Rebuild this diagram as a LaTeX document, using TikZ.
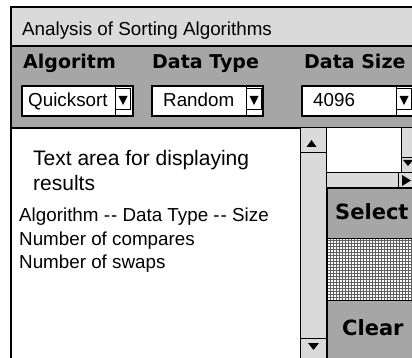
\documentclass[tikz,border=0pt]{standalone}
\usepackage{fontspec}
\setmainfont{Liberation Sans}
\newfontfamily\lblfont{DejaVu Sans}
\definecolor{lightg}{HTML}{DADADA}
\definecolor{midg}{HTML}{A6A6A6}
\newcommand\combobtn[1]{%
  \draw[line width=1] (#1,86) -- (#1,116);
  \draw[line width=1] (#1,89) -- (#1+15,89) -- (#1+15,110) -- (#1,110);
  \fill (#1+3.5,96) -- (#1+12.5,96) -- (#1+8,105) -- cycle;
}
\begin{document}
\begin{tikzpicture}[x=1pt,y=-1pt,
  lbl/.style={font=\lblfont\bfseries\fontsize{19}{22}\selectfont, anchor=base west, inner sep=0},
  txt/.style={font=\fontsize{18.8}{22}\selectfont, anchor=base west, inner sep=0},
  bigtxt/.style={font=\fontsize{21}{25}\selectfont, anchor=base west, inner sep=0},
  btntxt/.style={font=\lblfont\bfseries\fontsize{21}{25}\selectfont, anchor=base west, inner sep=0},
  combo/.style={draw=black, fill=white, line width=1.2},
  lightbox/.style={fill=lightg, draw=black, line width=1},
  btnbox/.style={fill=midg, draw=black, line width=1}]
\useasboundingbox (0,0) rectangle (412,358);
\clip (0,0) rectangle (412,358);
\fill[white] (0,0) rectangle (412,358);
% title bar and panel
\fill[lightg] (11,7) rectangle (414,46);
\fill[midg] (11,46) rectangle (414,128);
\fill[white] (11,128) rectangle (300,360);
\draw[line width=1.3] (11,360) -- (11,7) -- (414,7);
\draw[line width=1.3] (11,46) -- (414,46);
\draw[line width=1.3] (11,128) -- (414,128);
\node[txt] (title) at (22,36) {Analysis of Sorting Algorithms};
% labels
\node[lbl] (lalg) at (23,69) {Algoritm};
\node[lbl] (ltype) at (152,69) {Data Type};
\node[lbl] (lsize) at (304,69) {Data Size};
% combo boxes
\draw[combo] (22,86) rectangle (133,116);
\draw[combo] (152,86) rectangle (263,116);
\draw[combo] (302,86) rectangle (420,116);
\node[txt] (cqs) at (28,107) {Quicksort};
\node[txt] (crand) at (163,107) {Random};
\node[txt] (csize) at (313,107) {4096};
\combobtn{115}
\combobtn{246}
\combobtn{396}
% text area
\node[bigtxt] (t1) at (33,165.5) {Text area for displaying};
\node[bigtxt] (t2) at (33,190.5) {results};
\node[txt] (t3) at (19,222) {Algorithm -\kern1pt- Data Type -\kern1pt- Size};
\node[txt] (t4) at (19,245) {Number of compares};
\node[txt] (t5) at (19,268) {Number of swaps};
% vertical scrollbar
\draw[lightbox] (300,128) rectangle (326,360);
\draw[line width=1] (300,153) -- (326,153);
\draw[line width=1] (300,338) -- (326,338);
\fill (306.5,147) -- (316.5,147) -- (311.5,140) -- cycle;
\fill (308,343) -- (319,343) -- (313.5,350) -- cycle;
% small white box and its scrollbars
\draw[fill=white, line width=1] (326,128) rectangle (401,173);
\draw[lightbox] (401,128) rectangle (414,173);
\draw[line width=1] (401,158) -- (414,158);
\fill (403,160) -- (413,160) -- (408,166) -- cycle;
\draw[lightbox] (326,173) rectangle (414,188);
\draw[line width=1] (398,173) -- (398,188);
\fill (402,175) -- (402,186) -- (411,180.5) -- cycle;
% Select button
\draw[btnbox] (327,188) rectangle (414,238);
\draw[line width=2.2] (327,238) -- (327,188) -- (414,188);
\node[btntxt] (sel) at (335,219.6) {Select};
% dotted area
\fill[white] (327,238) rectangle (414,300);
\begin{scope}
\clip (327,238) rectangle (414,300);
\begin{scope}[shift={(0.5,0.5)}]
\draw[step=3pt, gray!75!black, line width=1] (324,234) grid (417,303);
\end{scope}
\end{scope}
\draw[line width=1] (327,238) rectangle (414,300);
% Clear button
\draw[btnbox] (327,300) rectangle (414,360);
\node[btntxt] (clr) at (342,335) {Clear};
\end{tikzpicture}
\end{document}
